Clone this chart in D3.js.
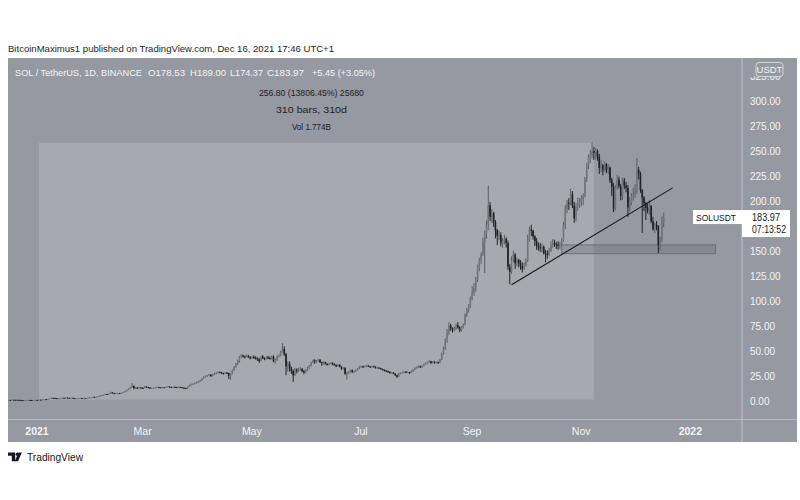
<!DOCTYPE html>
<html>
<head>
<meta charset="utf-8">
<script src="https://cdn.jsdelivr.net/npm/d3@7/dist/d3.min.js"></script>
<style>
  html, body { margin: 0; padding: 0; background: #ffffff; }
  svg { display: block; font-family: "Liberation Sans", Arial, sans-serif; }
</style>
</head>
<body>
<svg id="chart" width="800" height="500"></svg>
<script>
// ---------------- DATA ----------------
const startDate = "2020-12-15";   // first daily candle
const firstOpen = 1.55;
// daily closes (one line per month: Dec 2020 .. Dec 2021)
const closes = [
  1.60,1.58,1.75,1.70,1.68,1.62,1.55,1.45,1.30,1.35,1.45,1.52,1.50,1.42,1.45,1.55,1.51,
  1.84,1.80,2.10,2.40,2.30,2.60,3.40,3.60,3.55,3.40,3.00,3.10,3.45,3.60,3.50,3.80,3.65,3.55,3.70,3.40,3.10,3.30,3.35,3.50,3.40,3.45,3.30,3.60,4.10,4.30,4.60,
  4.40,4.70,5.20,5.80,6.40,6.60,7.50,7.20,8.00,9.20,8.40,8.00,8.30,8.50,7.90,8.70,9.40,10.20,11.60,12.60,14.20,15.60,13.40,13.90,13.20,14.10,13.60,13.50,
  14.80,14.30,13.90,13.10,13.40,13.60,13.90,14.40,14.20,14.00,14.30,13.90,14.60,14.90,14.50,14.30,14.60,14.40,14.10,14.50,14.20,13.90,13.40,12.90,14.80,16.10,17.20,17.60,18.40,19.20,19.80,
  21.2,22.9,24.6,25.2,25.9,26.8,25.4,27.1,27.9,28.6,29.4,29.1,28.2,27.9,28.6,28.4,25.6,27.8,31.2,34.6,37.9,40.6,44.8,46.2,45.1,44.6,45.8,44.1,43.2,44.6,
  44.0,43.2,42.1,40.5,44.8,43.2,42.7,44.1,43.5,42.8,44.9,40.2,41.5,44.8,45.6,49.8,52.6,47.2,35.4,37.8,33.1,30.4,26.2,31.8,30.5,31.6,32.8,30.1,28.9,31.2,33.4,
  35.8,38.9,41.2,39.8,40.6,41.8,39.2,38.1,39.4,37.6,36.9,37.8,38.6,37.2,36.4,35.1,36.8,34.9,32.6,33.8,27.6,28.4,29.8,31.2,29.4,30.1,31.6,32.8,34.9,35.2,
  34.6,35.3,35.9,35.1,34.2,35.4,34.8,33.6,33.9,33.2,32.4,31.6,30.9,30.2,29.4,28.6,28.9,27.8,26.2,24.8,27.9,28.6,29.1,29.8,28.9,29.4,28.7,30.1,31.8,33.4,34.2,
  35.2,34.1,35.6,37.2,38.4,39.1,40.2,38.6,39.8,38.9,39.5,38.7,41.8,47.6,52.4,61.8,68.6,75.8,73.2,71.9,72.6,76.4,74.1,71.2,73.8,76.9,86.4,91.2,95.8,103.5,108.9,
  113.2,121.4,134.6,141.2,146.8,160.4,168.2,176.4,196.2,184.6,188.1,179.4,171.2,165.8,166.4,158.2,160.1,162.6,158.4,134.8,129.6,141.2,146.8,138.2,141.6,137.9,135.2,132.8,136.4,140.8,
  162.4,171.8,170.6,165.2,160.4,156.1,154.2,153.0,154.6,148.2,147.6,146.8,150.4,156.8,158.2,157.4,156.9,155.8,157.2,161.4,176.2,192.8,198.6,198.2,207.4,195.8,183.2,195.6,197.2,199.8,202.4,
  205.8,222.4,236.2,244.8,246.2,250.4,248.6,250.2,244.8,233.6,236.2,231.8,237.4,231.2,233.8,221.4,214.6,192.8,214.2,221.8,215.4,205.6,221.2,215.8,213.4,194.2,198.6,205.8,206.4,209.2,
  231.8,227.6,211.4,203.8,198.2,193.6,190.4,195.8,180.2,172.4,176.8,175.6,156.2,161.8,178.53,183.97
];
const highs = [
  1.65,1.66,1.82,1.80,1.74,1.72,1.66,1.58,1.48,1.42,1.50,1.58,1.58,1.54,1.52,1.62,1.60,
  1.90,1.98,2.20,2.60,2.55,2.75,3.60,3.90,3.75,3.70,3.45,3.30,3.55,3.80,3.75,4.00,3.95,3.75,3.85,3.75,3.45,3.40,3.55,3.65,3.60,3.60,3.50,3.70,4.30,4.55,4.80,
  4.75,4.90,5.40,6.10,6.80,6.95,7.80,7.70,8.40,9.80,9.40,8.60,8.60,8.90,8.60,8.90,9.70,10.60,11.90,13.20,14.80,18.30,15.90,14.60,14.30,14.40,14.20,14.30,
  15.40,15.20,14.60,14.20,13.90,13.90,14.20,14.80,14.70,14.50,14.60,14.50,14.90,15.40,15.10,14.80,14.90,14.90,14.60,14.80,14.70,14.40,14.10,13.60,15.10,16.80,17.90,18.20,19.00,19.80,20.60,
  21.8,23.4,25.2,26.1,26.6,27.4,27.2,27.6,28.6,29.3,30.2,30.1,29.6,28.8,29.3,29.4,28.9,28.4,31.9,35.4,38.6,41.8,45.6,47.4,46.8,45.9,46.9,46.3,45.2,45.4,
  46.2,45.1,44.2,43.4,45.6,46.4,44.1,45.2,45.6,44.9,45.8,46.1,42.9,45.9,47.2,50.8,58.3,55.2,48.6,39.9,40.1,34.8,32.1,33.6,33.2,33.8,34.6,33.4,31.5,32.4,34.8,
  36.4,39.6,42.1,42.3,41.4,42.6,42.3,39.8,40.1,39.8,38.2,38.6,39.4,39.1,38.2,37.1,37.4,37.2,35.1,34.4,34.1,29.8,30.6,32.2,32.1,30.9,32.2,33.6,35.6,36.1,
  35.6,36.1,36.6,36.2,35.4,35.9,35.8,35.1,34.6,34.1,33.6,32.8,32.1,31.4,30.9,30.1,29.6,29.2,28.4,26.8,28.6,29.2,29.8,30.4,30.3,30.1,29.6,30.8,32.4,34.1,35.1,
  36.1,35.8,36.2,37.9,39.2,40.1,41.3,40.6,40.4,40.2,40.1,39.8,42.4,49.1,54.8,63.1,72.4,79.2,77.6,74.1,74.8,77.9,79.4,75.1,75.2,78.1,88.2,93.6,97.4,104.9,115.2,
  118.4,124.6,136.9,143.6,149.4,163.8,170.9,181.2,215.8,199.4,192.6,189.8,181.4,172.6,170.9,169.2,163.4,166.8,164.2,160.9,137.4,145.2,150.8,148.4,143.9,142.6,141.4,139.2,138.9,143.2,
  166.8,174.9,176.8,171.9,166.2,163.4,158.9,158.6,157.9,156.1,151.6,151.2,153.6,160.2,162.4,161.9,159.6,160.2,159.4,163.2,179.8,196.4,201.6,203.4,212.6,210.4,199.6,198.4,203.8,203.6,206.4,
  208.4,224.6,238.9,247.2,251.6,258.7,254.6,253.4,252.1,247.6,241.2,237.6,240.2,238.4,237.2,234.9,223.6,218.4,216.2,226.4,224.8,217.6,223.9,223.6,219.4,216.4,204.6,208.2,213.6,217.4,
  243.2,234.6,229.8,212.6,205.4,199.6,198.2,201.4,196.2,184.6,178.6,180.4,176.2,164.6,185.1,189.00
];
const lows = [
  1.52,1.52,1.56,1.64,1.60,1.56,1.50,1.40,1.26,1.28,1.33,1.42,1.45,1.38,1.38,1.43,1.46,
  1.48,1.72,1.76,2.05,2.10,2.25,2.55,3.20,3.30,3.20,2.70,2.85,3.00,3.40,3.35,3.45,3.50,3.40,3.45,3.30,2.95,3.00,3.20,3.25,3.30,3.25,3.15,3.25,3.50,4.00,4.20,
  4.20,4.30,4.55,5.10,5.60,6.10,6.50,6.80,7.10,7.90,8.10,7.70,7.80,8.10,7.60,7.70,8.60,9.30,10.10,11.30,12.40,13.60,12.10,12.80,12.60,12.90,13.00,12.90,
  14.00,14.10,13.50,12.80,12.70,13.20,13.40,13.70,13.90,13.70,13.80,13.60,13.80,14.40,14.10,13.90,14.10,14.00,13.80,13.90,13.90,13.50,13.00,12.50,12.70,14.60,15.80,16.90,17.30,18.10,18.80,
  19.6,20.9,22.6,24.1,24.6,25.4,24.6,25.1,26.8,27.4,28.1,28.4,27.6,27.1,27.6,27.8,22.4,21.6,27.2,30.6,33.8,36.4,38.9,43.6,43.8,43.1,44.2,43.6,42.1,42.8,
  42.6,41.9,40.6,38.6,40.1,42.4,41.3,42.1,42.4,41.8,42.1,39.2,37.8,40.6,43.9,45.2,49.1,45.6,26.2,29.8,30.1,27.6,19.6,25.4,28.1,29.6,30.8,29.4,27.2,28.3,30.6,
  32.8,35.1,38.4,37.6,38.6,39.8,38.6,35.6,36.8,36.9,35.8,36.1,36.9,36.4,35.8,34.6,34.8,34.2,31.8,31.6,26.8,21.9,27.4,28.9,28.6,28.8,29.6,31.1,32.4,33.8,
  33.6,34.2,34.9,34.6,33.6,33.8,34.1,32.9,32.8,32.7,31.8,31.1,30.2,29.6,28.8,27.9,28.1,27.3,25.8,23.6,24.6,27.3,28.1,28.7,28.2,28.4,27.6,28.3,29.8,31.2,33.1,
  33.9,33.6,33.8,35.1,36.6,37.8,38.6,37.4,37.9,37.8,38.2,37.6,38.4,41.2,46.8,51.6,58.9,66.4,70.6,68.9,70.1,71.6,72.8,69.4,69.8,72.9,76.2,84.6,89.1,93.6,101.2,
  105.6,109.8,119.4,130.2,137.6,145.6,128.4,162.6,171.4,180.2,178.4,174.6,163.2,156.4,161.2,155.1,153.6,157.2,153.8,131.6,117.2,127.6,139.4,132.6,135.1,134.2,131.6,128.9,131.4,134.8,
  139.6,159.8,165.4,161.8,155.4,151.6,150.8,149.6,149.1,147.1,139.2,142.8,145.6,149.6,153.8,154.6,152.6,151.9,152.4,155.6,159.8,172.4,188.4,191.6,196.2,193.4,178.6,180.2,190.8,193.6,195.2,
  196.4,204.1,219.6,232.6,238.4,243.2,241.6,242.1,240.8,227.6,229.4,226.1,229.6,228.4,227.1,218.6,205.6,189.4,191.2,211.6,213.1,201.2,201.6,212.4,209.2,184.6,190.2,196.1,200.8,203.6,
  207.6,222.1,208.6,168.6,190.4,181.6,188.1,186.4,178.4,170.9,168.6,171.2,148.4,150.6,159.2,174.37
];

// axis labels (175.00 is hidden behind the last-price label in the reference)
const priceTicks = [0,25,50,75,100,125,150,200,225,250,275,300,325];
const timeTicks = [
  {date:"2021-01-01", label:"2021", bold:true},
  {date:"2021-03-01", label:"Mar", bold:false},
  {date:"2021-05-01", label:"May", bold:false},
  {date:"2021-07-01", label:"Jul", bold:false},
  {date:"2021-09-01", label:"Sep", bold:false},
  {date:"2021-11-01", label:"Nov", bold:false},
  {date:"2022-01-01", label:"2022", bold:true}
];
// drawings
const measureBox = {from:"2021-01-01", to:"2021-11-07", low:1.86, high:258.66};
const measureTexts = [
  {t:"256.80 (13806.45%) 25680", w:105},
  {t:"310 bars, 310d", w:71},
  {t:"Vol 1.774B", w:39}
];
const supportZone = {from:"2021-10-20", to:"2022-01-14", low:147.8, high:156.6};
const trendLine = [{date:"2021-09-22", price:116.8}, {date:"2021-12-21", price:213.6}];
const lastPrice = 183.97;
const lastLabel = {name:"SOLUSDT", price:"183.97", countdown:"07:13:52"};
const titleText = "BitcoinMaximus1 published on TradingView.com, Dec 16, 2021 17:46 UTC+1";
const legendParts = [
  {t:"SOL / TetherUS, 1D, BINANCE", x:15, w:127},
  {t:"O178.53", x:148, w:37}, {t:"H189.00", x:190, w:36}, {t:"L174.37", x:230, w:33},
  {t:"C183.97", x:267, w:37}, {t:"+5.45 (+3.05%)", x:312, w:63}
];

// ---------------- DRAW ----------------
const svg = d3.select("#chart");
const parse = d3.utcParse("%Y-%m-%d");
const PX_PER_DAY = 1.79;
const x = d3.scaleUtc()
  .domain([parse("2021-01-01"), parse("2022-01-01")])
  .range([39, 39 + 365 * PX_PER_DAY]);
const y = d3.scaleLinear().domain([0, 300]).range([401.5, 101.5]);

const panel = {x0: 8, x1: 797, y0: 58, y1: 442, axisX: 742, axisY: 419.5};
const BG = "#9699a1", BOX = "#a7a9b0", SEP = "#b9bbc1", TXT = "#f4f4f6";
const fit = (sel, w) => sel.attr("textLength", w).attr("lengthAdjust", "spacingAndGlyphs");

// title
fit(svg.append("text").attr("x", 8).attr("y", 52)
  .attr("font-size", 9.6).attr("fill", "#1e1e1e").text(titleText), 326);

// panel
svg.append("rect").attr("x", panel.x0).attr("y", panel.y0)
  .attr("width", panel.x1 - panel.x0).attr("height", panel.y1 - panel.y0).attr("fill", BG);

const defs = svg.append("defs");
defs.append("clipPath").attr("id", "plotclip")
  .append("rect").attr("x", panel.x0).attr("y", panel.y0)
  .attr("width", panel.axisX - panel.x0).attr("height", panel.axisY - panel.y0);
defs.append("clipPath").attr("id", "axisclip")
  .append("rect").attr("x", panel.axisX).attr("y", 76.5)
  .attr("width", panel.x1 - panel.axisX).attr("height", panel.axisY - 76.5);

const plot = svg.append("g").attr("clip-path", "url(#plotclip)");

// measure box
plot.append("rect")
  .attr("x", x(parse(measureBox.from)))
  .attr("y", y(measureBox.high))
  .attr("width", x(parse(measureBox.to)) - x(parse(measureBox.from)))
  .attr("height", y(measureBox.low) - y(measureBox.high))
  .attr("fill", BOX);

// support zone
plot.append("rect")
  .attr("x", x(parse(supportZone.from)))
  .attr("y", y(supportZone.high))
  .attr("width", x(parse(supportZone.to)) - x(parse(supportZone.from)))
  .attr("height", y(supportZone.low) - y(supportZone.high))
  .attr("fill", "rgba(60,62,70,0.18)")
  .attr("stroke", "#6c6f77").attr("stroke-width", 1);

// candles
const start = parse(startDate);
const candles = closes.map((c, i) => {
  const o = i === 0 ? firstOpen : closes[i - 1];
  return {
    date: d3.utcDay.offset(start, i), o, c,
    h: Math.max(highs[i], o, c), l: Math.min(lows[i], o, c)
  };
});
const UP_BODY = "#72757d", UP_WICK = "#5a5d64", DOWN = "#1f2125";
const bw = 1.6;
const cg = plot.append("g");
cg.selectAll("line.wick").data(candles).join("line")
  .attr("class", "wick")
  .attr("x1", d => x(d.date)).attr("x2", d => x(d.date))
  .attr("y1", d => y(d.h)).attr("y2", d => y(d.l))
  .attr("stroke", d => d.c >= d.o ? UP_WICK : DOWN).attr("stroke-width", 1);
cg.selectAll("rect.body").data(candles).join("rect")
  .attr("class", "body")
  .attr("x", d => x(d.date) - bw / 2)
  .attr("width", bw)
  .attr("y", d => y(Math.max(d.o, d.c)))
  .attr("height", d => Math.max(1, Math.abs(y(d.o) - y(d.c))))
  .attr("fill", d => d.c >= d.o ? UP_BODY : DOWN);

// trend line
plot.append("line")
  .attr("x1", x(parse(trendLine[0].date))).attr("y1", y(trendLine[0].price))
  .attr("x2", x(parse(trendLine[1].date))).attr("y2", y(trendLine[1].price))
  .attr("stroke", "#16171b").attr("stroke-width", 1.1);

// separators
svg.append("line").attr("x1", panel.axisX).attr("x2", panel.axisX)
  .attr("y1", panel.y0).attr("y2", panel.y1).attr("stroke", SEP).attr("stroke-width", 1.2);
svg.append("line").attr("x1", panel.x0).attr("x2", panel.x1)
  .attr("y1", panel.axisY).attr("y2", panel.axisY).attr("stroke", SEP).attr("stroke-width", 1.2);

// price axis (top label partly hidden under the USDT badge)
const yAxis = svg.append("g").attr("class", "yaxis").attr("clip-path", "url(#axisclip)");
yAxis.selectAll("text").data(priceTicks).join("text")
  .attr("x", 750).attr("y", d => y(d)).attr("dy", "0.35em")
  .attr("font-size", 10).attr("fill", TXT)
  .text(d => d3.format(".2f")(d));

// time axis
const xAxis = svg.append("g").attr("class", "xaxis");
xAxis.selectAll("text").data(timeTicks).join("text")
  .attr("x", d => x(parse(d.date)) - 2).attr("y", 435)
  .attr("text-anchor", "middle").attr("font-size", 10.5)
  .attr("font-weight", d => d.bold ? "bold" : "normal")
  .attr("fill", TXT).text(d => d.label);

// USDT badge
svg.append("rect").attr("x", 756).attr("y", 62.5).attr("width", 27).attr("height", 14)
  .attr("rx", 3).attr("fill", BG).attr("stroke", "#d4d6da").attr("stroke-width", 1);
svg.append("text").attr("x", 769.5).attr("y", 73).attr("text-anchor", "middle")
  .attr("font-size", 9.5).attr("fill", TXT).text("USDT");

// legend line
const leg = svg.append("g");
leg.selectAll("text").data(legendParts).join("text")
  .attr("x", d => d.x).attr("y", 75.5).attr("font-size", 9.5)
  .attr("fill", TXT).attr("textLength", d => d.w).attr("lengthAdjust", "spacingAndGlyphs")
  .text(d => d.t);

// measure texts
const mcx = (x(parse(measureBox.from)) + x(parse(measureBox.to))) / 2 - 5;
svg.append("g").selectAll("text").data(measureTexts).join("text")
  .attr("x", d => mcx - d.w / 2).attr("y", (d, i) => 95.5 + i * 17)
  .attr("font-size", 9.8).attr("fill", "#202124")
  .attr("textLength", d => d.w).attr("lengthAdjust", "spacingAndGlyphs")
  .text(d => d.t);

// last price label
const ly = y(lastPrice);
svg.append("rect").attr("x", 693).attr("y", ly - 7.5).attr("width", 49).attr("height", 14)
  .attr("fill", "#ffffff");
fit(svg.append("text").attr("x", 696).attr("y", ly + 3.5).attr("font-size", 9.5)
  .attr("fill", "#131722").text(lastLabel.name), 40);
svg.append("rect").attr("x", 742).attr("y", ly - 7.5).attr("width", 48).attr("height", 27)
  .attr("fill", "#ffffff");
fit(svg.append("text").attr("x", 752).attr("y", ly + 3.5).attr("font-size", 10)
  .attr("fill", "#131722").text(lastLabel.price), 28);
fit(svg.append("text").attr("x", 752).attr("y", ly + 15.5).attr("font-size", 10)
  .attr("fill", "#131722").text(lastLabel.countdown), 34);

// bottom logo
const logo = svg.append("g").attr("fill", "#131722");
logo.append("path").attr("d", "M8,452.5 h7.2 v8.8 h-3.4 v-5.6 h-3.8 z");
logo.append("circle").attr("cx", 17.4).attr("cy", 454.2).attr("r", 1.7);
logo.append("path").attr("d", "M18.6,452.5 h3.3 l-3.9,8.8 h-3.3 z");
fit(svg.append("text").attr("x", 27).attr("y", 460.5).attr("font-size", 11)
  .attr("fill", "#131722").text("TradingView"), 56);
</script>
</body>
</html>
